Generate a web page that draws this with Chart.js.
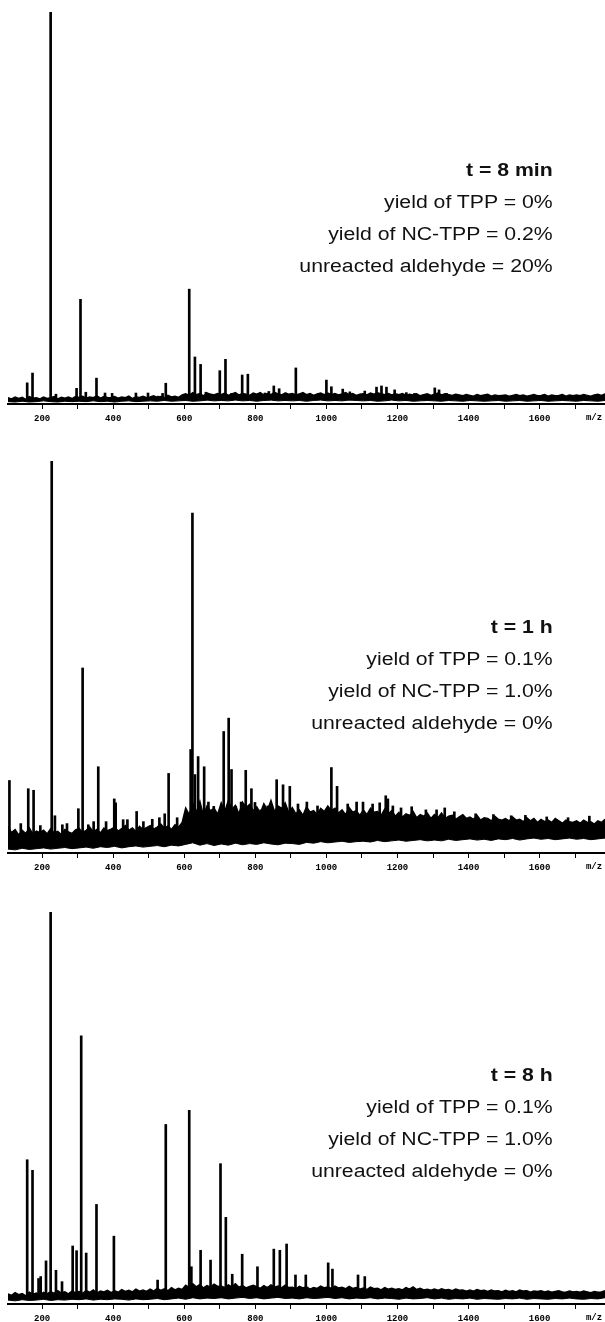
<!DOCTYPE html>
<html><head><meta charset="utf-8">
<script src="https://cdn.jsdelivr.net/npm/chart.js@4.4.1/dist/chart.umd.min.js"></script>
<style>
html,body{margin:0;padding:0;background:#fff;width:605px;height:1322px;overflow:hidden}
.panel{position:absolute;left:0;width:605px;height:450px}
.panel canvas{position:absolute;left:0;top:0}
.note{position:absolute;right:52px;text-align:right;font-family:"Liberation Sans",Arial,sans-serif;font-size:18px;line-height:32px;color:#111;transform:scaleX(1.18);transform-origin:right center;white-space:nowrap}
.note b{font-weight:bold}
</style></head><body>
<div class="panel" style="top:0px"><canvas id="c1" width="605" height="450"></canvas></div>
<div class="panel" style="top:449px"><canvas id="c2" width="605" height="450"></canvas></div>
<div class="panel" style="top:900px"><canvas id="c3" width="605" height="450"></canvas></div>
<div class="note" style="top:154px"><b>t = 8 min</b><br>yield of TPP = 0%<br>yield of NC-TPP = 0.2%<br>unreacted aldehyde = 20%</div>
<div class="note" style="top:611px"><b>t = 1 h</b><br>yield of TPP = 0.1%<br>yield of NC-TPP = 1.0%<br>unreacted aldehyde = 0%</div>
<div class="note" style="top:1059px"><b>t = 8 h</b><br>yield of TPP = 0.1%<br>yield of NC-TPP = 1.0%<br>unreacted aldehyde = 0%</div>
<script>
// m/z axis
const MZ_MIN = 104, MZ_MAX = 1784;
const UPPER_START = 104, UPPER_STEP = 10;   // upper edge of the noise band
const LOWER_START = 104, LOWER_STEP = 20;   // lower edge of the noise band
const TICK_STEP = 100;
const AXIS_TITLE = "m/z";

// ---------- Panel 1: t = 8 min ----------
const peakBase1 = 1.0;
const upper1 = [
1.6,1.3,1.8,1.4,1.7,1.2,1.9,1.5,1.6,1.3,
1.8,1.4,1.6,1.9,1.3,1.7,1.5,1.8,1.4,1.9,
1.7,2.0,1.5,1.8,1.6,2.1,1.5,1.9,1.7,1.6,
1.9,1.5,1.8,1.6,2.0,1.4,1.8,1.7,2.0,1.6,
1.8,2.1,1.7,1.9,1.6,2.2,1.8,2.0,1.7,2.3,
2.6,2.2,2.9,2.4,2.7,2.1,2.8,2.5,2.3,2.7,
2.4,2.8,2.2,2.6,2.9,2.3,2.7,2.5,2.2,2.8,
2.5,2.9,2.3,2.7,2.4,3.0,2.6,2.3,2.8,2.5,
2.7,2.3,2.6,2.9,2.4,2.7,2.2,2.6,2.8,2.4,
2.8,2.4,2.7,2.3,2.6,2.9,2.4,2.7,2.2,2.5,
2.6,2.3,2.8,2.5,2.9,2.6,2.4,2.7,2.3,2.6,
2.4,2.7,2.2,2.5,2.3,2.6,2.1,2.4,2.6,2.2,
2.5,2.8,2.3,2.6,2.4,2.2,2.5,2.3,2.1,2.4,
2.2,2.0,2.4,2.1,2.3,2.5,2.0,2.3,2.1,2.2,
2.3,2.0,2.2,2.4,2.1,2.3,2.0,2.2,2.4,2.1,
2.2,2.4,2.0,2.3,2.1,2.2,2.4,2.0,2.3,2.1,
2.3,2.1,2.4,2.2,2.0,2.3,2.5,2.2,2.6];
const lower1 = [
0.6,0.5,0.7,0.5,0.6,0.8,0.6,0.5,0.7,0.6,
0.7,0.6,0.8,0.6,0.7,0.5,0.7,0.8,0.6,0.7,
0.8,0.7,0.9,0.7,0.8,0.9,0.7,0.8,1.0,0.8,
0.9,0.8,1.0,0.8,0.9,0.7,0.9,1.0,0.8,0.9,
0.8,0.9,0.7,0.9,1.0,0.8,0.9,0.8,1.0,0.9,
0.8,0.9,0.7,0.8,1.0,0.8,0.9,0.7,0.8,0.9,
0.8,0.7,0.9,0.8,0.7,0.9,0.8,0.7,0.8,0.9,
0.7,0.8,0.9,0.7,0.8,0.9,0.7,0.8,0.9,0.8,
0.7,0.9,0.8,0.7,0.9];
const peakMz1 = [158,173,224,239,297,308,323,353,377,397,464,498,526,539,548,602,614,630,646,661,677,689,700,716,733,763,779,827,838,852,867,886,914,1000,1014,1046,1066,1108,1141,1155,1169,1192,1225,1248,1305,1317,1338];
const peakInt1 = [5.4,7.9,100,2.5,4,26.7,3,6.6,2.8,2.7,2.8,2.8,2,2.7,5.3,2,29.3,12,10.1,3,2.5,2.5,8.5,11.4,2.7,7.4,7.6,2.8,3.2,4.6,3.9,2.8,9.2,6.1,4.4,3.8,3.1,3.3,4.3,4.6,4.3,3.6,2.9,2.7,4.1,3.6,2.7];

// ---------- Panel 2: t = 1 h ----------
const peakBase2 = 4.2;
const upper2 = [
6.8,5.2,6.0,4.6,5.8,5.0,6.4,4.8,5.6,5.2,
5.8,4.9,6.2,5.1,5.5,4.7,6.0,5.4,5.0,5.9,
6.3,5.2,5.8,6.6,5.4,6.0,5.1,6.4,5.7,6.1,
6.6,5.6,6.2,7.0,5.8,6.4,5.5,6.8,6.0,6.5,
7.0,6.1,6.6,7.4,6.3,6.9,6.0,7.2,6.6,7.8,
11.5,9.8,12.6,10.4,13.2,9.6,12.0,10.8,11.4,9.9,
12.8,10.6,13.4,11.2,12.2,10.0,13.0,11.6,12.4,10.8,
11.8,10.2,12.6,11.0,13.4,10.6,12.0,11.4,12.8,10.4,
11.6,10.0,11.0,9.6,11.8,10.4,10.8,9.8,11.4,10.6,
12.0,10.8,11.4,10.2,11.0,9.8,11.6,10.4,10.8,9.6,
11.0,9.8,11.4,10.4,10.6,9.6,11.2,10.0,10.8,9.4,
10.4,9.2,10.0,9.6,10.6,9.0,9.8,9.4,10.2,8.8,
9.8,9.0,10.2,8.8,9.4,9.6,8.6,9.2,9.8,8.8,
9.2,8.6,9.6,8.4,9.0,8.8,8.2,9.4,8.6,8.4,
8.8,8.2,9.2,8.4,8.6,8.0,9.0,8.2,8.8,7.8,
8.6,8.0,8.4,7.8,8.8,8.2,7.6,8.4,8.0,7.8,
8.2,7.6,8.4,7.8,8.0,7.4,8.2,7.8,8.6];
const lower2 = [
1.0,0.8,1.2,0.9,1.1,1.3,1.0,1.2,1.4,1.1,
1.3,1.5,1.2,1.6,1.4,1.7,1.3,1.6,1.8,1.5,
1.7,1.9,1.6,2.0,1.8,2.2,2.6,2.0,2.4,1.9,
2.3,2.0,2.5,2.1,2.4,2.2,2.6,2.3,2.1,2.5,
2.4,2.2,2.7,2.5,2.9,2.6,2.8,3.0,2.7,2.9,
3.0,2.8,3.2,2.9,3.1,3.3,3.0,3.2,3.4,3.1,
3.3,3.1,3.5,3.2,3.4,3.6,3.3,3.5,3.2,3.6,
3.4,3.7,3.3,3.6,3.8,3.5,3.7,3.4,3.6,3.8,
3.5,3.7,3.4,3.6,3.8];
const peakMz2 = [108,140,161,176,195,227,236,257,270,302,314,330,345,358,380,403,407,428,440,466,485,510,530,545,556,580,618,623,630,639,656,668,683,711,725,733,745,760,773,789,799,815,835,860,878,897,920,945,975,1014,1030,1060,1085,1103,1130,1150,1167,1173,1187,1210,1240,1280,1310,1333,1360,1420,1470,1520,1560,1620,1680,1740];
const peakInt2 = [18.5,7.5,16.4,16,7,100,9.5,7.2,7.5,11.3,47.2,7.2,8,22,8,13.8,12.8,8.5,8.5,10.6,8,8.6,9,10,20.3,9,26.4,86.7,20,24.6,22,13,11.9,31,34.4,21.3,11.9,13,21.1,16.4,12.9,11,12,18.7,17.4,17,12.5,13,12,21.8,17,12.5,13,13,12.5,12.8,14.6,13.8,12,11.5,11.8,11,11,11.5,10.5,10,9.8,9.5,9.6,9.2,9,9.4];

// ---------- Panel 3: t = 8 h ----------
const peakBase3 = 1.6;
const upper3 = [
2.6,2.2,2.9,2.4,2.7,2.1,3.0,2.5,2.8,2.3,
3.0,2.6,3.2,2.7,3.4,2.8,3.1,2.6,3.3,2.9,
3.2,2.7,3.4,3.0,3.6,2.8,3.3,3.1,3.5,2.9,
3.4,3.0,3.7,3.2,3.5,3.1,3.8,3.3,3.6,3.2,
3.8,3.3,4.0,3.5,3.9,3.4,4.2,3.6,4.0,3.7,
4.8,4.2,5.2,4.4,5.0,4.1,4.7,4.3,5.1,4.5,
4.6,4.2,4.9,4.4,5.2,4.3,4.7,4.1,4.5,4.8,
4.4,4.0,4.7,4.2,4.9,4.3,4.6,4.1,4.8,4.2,
4.3,3.9,4.5,4.1,4.4,3.8,4.2,4.0,4.6,4.1,
4.4,4.0,4.6,4.1,4.3,3.9,4.5,4.0,4.2,3.8,
4.1,3.7,4.3,3.9,4.0,3.6,4.2,3.8,4.0,3.7,
3.9,3.6,4.2,3.8,4.4,3.7,4.0,3.6,3.8,3.5,
3.8,3.5,3.9,3.6,3.7,3.4,3.8,3.5,3.6,3.3,
3.6,3.3,3.7,3.4,3.5,3.2,3.6,3.3,3.4,3.1,
3.5,3.2,3.4,3.1,3.6,3.3,3.4,3.0,3.3,3.2,
3.4,3.1,3.3,3.0,3.2,3.4,3.1,3.0,3.3,3.1,
3.2,3.0,3.3,3.1,2.9,3.2,3.0,3.1,3.4];
const lower3 = [
1.0,0.8,1.1,0.9,1.0,1.2,0.9,1.1,1.0,1.2,
1.1,1.3,1.0,1.2,1.1,1.3,1.2,1.0,1.3,1.1,
1.2,1.4,1.1,1.3,1.5,1.2,1.6,1.3,1.5,1.4,
1.6,1.3,1.5,1.7,1.4,1.6,1.3,1.5,1.7,1.4,
1.5,1.3,1.6,1.4,1.5,1.7,1.4,1.6,1.3,1.5,
1.4,1.6,1.3,1.5,1.4,1.2,1.5,1.3,1.4,1.6,
1.3,1.5,1.2,1.4,1.3,1.5,1.2,1.4,1.3,1.2,
1.4,1.3,1.5,1.2,1.4,1.3,1.2,1.4,1.3,1.5,
1.3,1.2,1.4,1.3,1.6];
const peakMz3 = [158,173,190,196,211,224,239,256,286,297,310,324,353,402,525,548,614,620,646,674,702,717,735,763,806,852,869,888,913,942,1005,1017,1089,1108];
const peakInt3 = [36.8,34.1,6.5,7,11,100,8.6,5.7,14.8,13.6,68.4,13,25.4,17.3,6.1,45.8,49.4,9.5,13.7,11.2,35.8,22.1,7.6,12.7,9.5,14,13.7,15.3,7.4,7.4,10.5,8.9,7.4,7];

const tickFont = {family: "'Liberation Mono', 'DejaVu Sans Mono', monospace", weight: 'bold', size: 9};

const axisTitlePlugin = {
  id: 'axisTitle',
  afterDraw(chart) {
    const ctx = chart.ctx;
    const xs = chart.scales.x;
    ctx.save();
    ctx.fillStyle = '#000';
    ctx.font = 'bold 9px "Liberation Mono", monospace';
    ctx.textAlign = 'center';
    ctx.textBaseline = 'middle';
    ctx.fillText(AXIS_TITLE, 594, xs.top + 14);
    ctx.restore();
  }
};

function makeChart(id, upper, lower, peakMz, peakInt, peakBase) {
  const upperData = upper.map((v, i) => ({x: UPPER_START + i * UPPER_STEP, y: v}));
  const lowerData = lower.map((v, i) => ({x: LOWER_START + i * LOWER_STEP, y: v}));
  const peakData = peakMz.map((m, i) => ({x: m, y: [peakBase, peakInt[i]]}));
  return new Chart(document.getElementById(id), {
    type: 'bar',
    data: {
      datasets: [
        {type: 'line', data: lowerData, borderColor: '#000', borderWidth: 1, pointRadius: 0, tension: 0, fill: false, order: 3},
        {type: 'line', data: upperData, borderColor: '#000', borderWidth: 1.4, pointRadius: 0, tension: 0, fill: '-1', backgroundColor: '#000', order: 2},
        {type: 'bar', data: peakData, backgroundColor: '#000', borderWidth: 0, barThickness: 2, order: 1}
      ]
    },
    options: {
      responsive: false,
      animation: false,
      devicePixelRatio: 1,
      layout: {padding: {left: 8, right: 0, top: 12, bottom: 0}},
      plugins: {legend: {display: false}, tooltip: {enabled: false}},
      scales: {
        x: {
          type: 'linear', min: MZ_MIN, max: MZ_MAX, offset: false,
          afterFit: s => { s.height = 46; s.paddingLeft = 0; s.paddingRight = 0; },
          border: {display: true, color: '#000', width: 2},
          grid: {display: true, offset: false, drawOnChartArea: false, drawTicks: true, tickLength: 5, color: '#000', lineWidth: 1},
          ticks: {stepSize: TICK_STEP, includeBounds: false, autoSkip: false, maxRotation: 0, padding: 4, color: '#000', font: tickFont,
            callback: v => (v % 200 === 0 ? String(v) : '')}
        },
        y: {display: false, min: 0, max: 100}
      }
    },
    plugins: [axisTitlePlugin]
  });
}

makeChart('c1', upper1, lower1, peakMz1, peakInt1, peakBase1);
makeChart('c2', upper2, lower2, peakMz2, peakInt2, peakBase2);
makeChart('c3', upper3, lower3, peakMz3, peakInt3, peakBase3);
</script>
</body></html>
